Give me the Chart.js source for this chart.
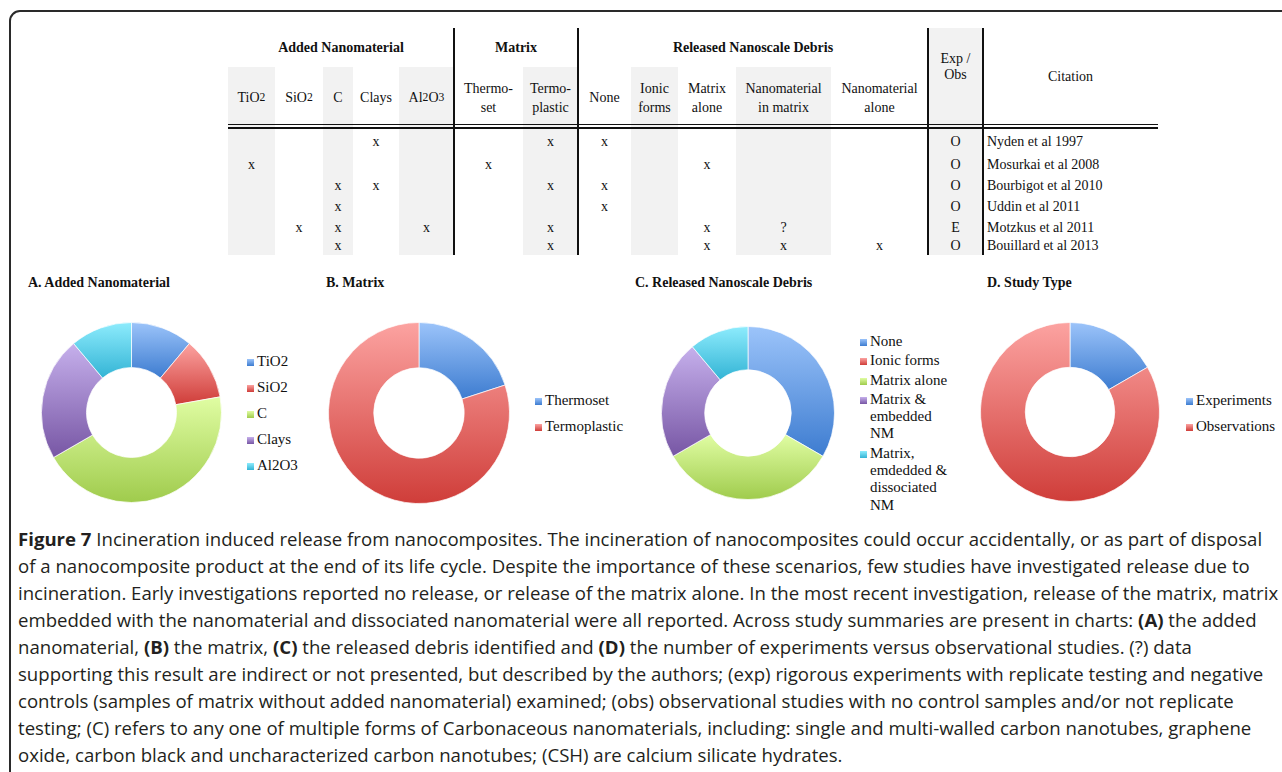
<!DOCTYPE html>
<html>
<head>
<meta charset="utf-8">
<script src="https://cdn.jsdelivr.net/npm/chart.js@4.4.1/dist/chart.umd.min.js"></script>
<style>
  html, body { margin: 0; padding: 0; background: #fff; }
  body { width: 1282px; height: 772px; position: relative; overflow: hidden; }
  .frame { position: absolute; left: 9px; top: 10px; width: 1320px; height: 820px; border: 2px solid #2a2a2a; border-radius: 11px; }
  .serif { font-family: "Liberation Serif", "Times New Roman", serif; color: #111; }
  .abs { position: absolute; }
  .cell { position: absolute; display: flex; align-items: center; justify-content: center; text-align: center; font-size: 14px; line-height: 19px; }
  .gray { position: absolute; background: #f2f2f2; }
  .vline { position: absolute; width: 2px; background: #111; }
  .hline { position: absolute; height: 1.5px; background: #111; }
  .title { position: absolute; font-weight: bold; font-size: 14px; line-height: 16px; white-space: nowrap; }
  .legend { position: absolute; font-size: 15px; font-family: "Liberation Serif", "Times New Roman", serif; color: #111; }
  .legend .item { display: flex; align-items: flex-start; }
  .legend .sw { width: 7px; height: 7px; flex: none; margin-right: 3px; }
  .chartbox { position: absolute; }
  .caption { position: absolute; left: 18px; top: 525px; font-family: "Open Sans", sans-serif; font-size: 18.6px; line-height: 27px; color: #231f20; white-space: nowrap; }
  .caption b { font-weight: 700; }
</style>
</head>
<body>
<div class="frame"></div>
<div id="table" class="serif"></div>

<div class="title serif" style="left:28px; top:275px;">A. Added Nanomaterial</div>
<div class="title serif" style="left:326px; top:275px;">B. Matrix</div>
<div class="title serif" style="left:635px; top:275px;">C. Released Nanoscale Debris</div>
<div class="title serif" style="left:987px; top:275px;">D. Study Type</div>

<div class="chartbox" style="left:41px; top:322px; width:181px; height:181px;"><canvas id="chartA"></canvas></div>
<div class="chartbox" style="left:328px; top:322px; width:182px; height:182px;"><canvas id="chartB"></canvas></div>
<div class="chartbox" style="left:661px; top:326px; width:174px; height:174px;"><canvas id="chartC"></canvas></div>
<div class="chartbox" style="left:980px; top:322px; width:180px; height:180px;"><canvas id="chartD"></canvas></div>

<div id="legendA" class="legend" style="left:247px; top:348px;"></div>
<div id="legendB" class="legend" style="left:535px; top:387px;"></div>
<div id="legendC" class="legend" style="left:860px; top:333px;"></div>
<div id="legendD" class="legend" style="left:1186px; top:387px;"></div>

<div class="caption">
<b>Figure 7</b> Incineration induced release from nanocomposites. The incineration of nanocomposites could occur accidentally, or as part of disposal<br>
of a nanocomposite product at the end of its life cycle. Despite the importance of these scenarios, few studies have investigated release due to<br>
incineration. Early investigations reported no release, or release of the matrix alone. In the most recent investigation, release of the matrix, matrix<br>
embedded with the nanomaterial and dissociated nanomaterial were all reported. Across study summaries are present in charts: <b>(A)</b> the added<br>
nanomaterial, <b>(B)</b> the matrix, <b>(C)</b> the released debris identified and <b>(D)</b> the number of experiments versus observational studies. (?) data<br>
supporting this result are indirect or not presented, but described by the authors; (exp) rigorous experiments with replicate testing and negative<br>
controls (samples of matrix without added nanomaterial) examined; (obs) observational studies with no control samples and/or not replicate<br>
testing; (C) refers to any one of multiple forms of Carbonaceous nanomaterials, including: single and multi-walled carbon nanotubes, graphene<br>
oxide, carbon black and uncharacterized carbon nanotubes; (CSH) are calcium silicate hydrates.
</div>

<script>
// chart data
const nanoLabels = ['TiO2', 'SiO2', 'C', 'Clays', 'Al2O3'];
const nanoCounts = [1, 1, 4, 2, 1];

const matrixLabels = ['Thermoset', 'Termoplastic'];
const matrixCounts = [1, 4];

const debrisLabels = ['None', 'Ionic forms', 'Matrix alone', 'Matrix & embedded NM', 'Matrix, emdedded & dissociated NM'];
const debrisCounts = [3, 0, 3, 2, 1];

const studyLabels = ['Experiments', 'Observations'];
const studyCounts = [1, 5];

// table text
const groupHeaders = [['Added Nanomaterial', 0, 4], ['Matrix', 5, 6], ['Released Nanoscale Debris', 7, 11]];
const columnHeaders = ['TiO<sub>2</sub>', 'SiO<sub>2</sub>', 'C', 'Clays', 'Al<sub>2</sub>O<sub>3</sub>',
  'Thermo-<br>set', 'Termo-<br>plastic', 'None', 'Ionic<br>forms', 'Matrix<br>alone',
  'Nanomaterial<br>in matrix', 'Nanomaterial<br>alone'];
const tableRows = [
  ['', '', '', 'x', '', '', 'x', 'x', '', '', '', '', 'O', 'Nyden et al 1997'],
  ['x', '', '', '', '', 'x', '', '', '', 'x', '', '', 'O', 'Mosurkai et al 2008'],
  ['', '', 'x', 'x', '', '', 'x', 'x', '', '', '', '', 'O', 'Bourbigot et al 2010'],
  ['', '', 'x', '', '', '', '', 'x', '', '', '', '', 'O', 'Uddin et al 2011'],
  ['', 'x', 'x', '', 'x', '', 'x', '', '', 'x', '?', '', 'E', 'Motzkus et al 2011'],
  ['', '', 'x', '', '', '', 'x', '', '', 'x', 'x', 'x', 'O', 'Bouillard et al 2013'],
];

// colours: [top, bottom] of each gradient
const BLUE = ['#9cc4fa', '#3d7cd0'];
const RED = ['#fca3a1', '#cf3d39'];
const GREEN = ['#e0fda3', '#9fcb4c'];
const PURPLE = ['#c6b0ec', '#7756a4'];
const CYAN = ['#8eecfd', '#33b4d5'];

// ---- table ----
const colEdges = [228, 275, 323, 353, 399, 454, 523, 578, 631, 678, 736, 831, 928, 983, 1158];
const rowCenters = [141.7, 164.2, 185, 206.5, 227.2, 245];
const tbl = document.getElementById('table');
function add(cls, style, html) {
  const d = document.createElement('div');
  d.className = cls;
  Object.assign(d.style, style);
  if (html !== undefined) d.innerHTML = html;
  tbl.appendChild(d);
  return d;
}
[0, 2, 4, 6, 8, 10].forEach(i => {
  add('gray', { left: colEdges[i] + 'px', top: '67px', width: (colEdges[i + 1] - colEdges[i]) + 'px', height: '188px' });
});
add('gray', { left: colEdges[12] + 'px', top: '28px', width: (colEdges[13] - colEdges[12]) + 'px', height: '227px' });

groupHeaders.forEach(([txt, a, b]) => {
  add('cell', { left: colEdges[a] + 'px', width: (colEdges[b + 1] - colEdges[a]) + 'px', top: '37px', height: '20px', fontWeight: 'bold' }, txt);
});
columnHeaders.forEach((txt, i) => {
  add('cell', { left: colEdges[i] + 'px', width: (colEdges[i + 1] - colEdges[i]) + 'px', top: '67px', height: '61px' }, txt);
});
add('cell', { left: colEdges[12] + 'px', width: (colEdges[13] - colEdges[12]) + 'px', top: '47px', height: '40px', lineHeight: '16px' }, 'Exp /<br>Obs');
add('cell', { left: colEdges[13] + 'px', width: (colEdges[14] - colEdges[13]) + 'px', top: '66px', height: '20px' }, 'Citation');

tableRows.forEach((row, r) => {
  row.forEach((txt, c) => {
    if (!txt) return;
    const style = { top: (rowCenters[r] - 9) + 'px', height: '18px', left: colEdges[c] + 'px', width: (colEdges[c + 1] - colEdges[c]) + 'px' };
    if (c === 13) { style.justifyContent = 'flex-start'; style.left = (colEdges[c] + 4) + 'px'; style.whiteSpace = 'nowrap'; }
    add('cell', style, txt);
  });
});

[454, 578, 928, 983].forEach(x => add('vline', { left: (x - 1) + 'px', top: '28px', height: '227px' }));
add('hline', { left: '228px', width: '930px', top: '123.5px' });
add('hline', { left: '228px', width: '930px', top: '127px' });

// ---- doughnuts ----
function segGradient(ctx, colors) {
  const chart = ctx.chart;
  const area = chart.chartArea;
  const [light, dark] = colors;
  if (!area) return dark;
  const data = ctx.dataset.data;
  const total = data.reduce((s, v) => s + v, 0);
  const before = data.slice(0, ctx.dataIndex).reduce((s, v) => s + v, 0);
  const a0 = -Math.PI / 2 + 2 * Math.PI * before / total;
  const a1 = a0 + 2 * Math.PI * data[ctx.dataIndex] / total;
  const cy = (area.top + area.bottom) / 2;
  const rOut = Math.min(area.width, area.height) / 2;
  const rIn = rOut * 0.5;
  let lo = Infinity, hi = -Infinity;
  for (let k = 0; k <= 60; k++) {
    const a = a0 + (a1 - a0) * k / 60;
    for (const r of [rIn, rOut]) {
      const y = cy + r * Math.sin(a);
      lo = Math.min(lo, y); hi = Math.max(hi, y);
    }
  }
  if (hi - lo < 1) hi = lo + 1;
  const g = chart.ctx.createLinearGradient(0, lo, 0, hi);
  g.addColorStop(0, light);
  g.addColorStop(1, dark);
  return g;
}

function donut(id, labels, values, palette) {
  return new Chart(document.getElementById(id), {
    type: 'doughnut',
    data: {
      labels: labels,
      datasets: [{
        data: values,
        backgroundColor: c => segGradient(c, palette[c.dataIndex]),
        borderColor: 'rgba(255,255,255,0.7)',
        borderWidth: 1
      }]
    },
    options: {
      responsive: true,
      maintainAspectRatio: false,
      animation: false,
      events: [],
      cutout: '50%',
      layout: { padding: 0 },
      plugins: { legend: { display: false }, tooltip: { enabled: false } }
    }
  });
}

function legend(id, labels, palette, itemHeight, lineHeight, gap, width) {
  const el = document.getElementById(id);
  el.innerHTML = labels.map((l, i) => {
    const [a, b] = palette[i];
    const swTop = (lineHeight - 7) / 2 + 1;
    return `<div class="item" style="line-height:${lineHeight}px; min-height:${itemHeight}px; margin-bottom:${gap}px;">
      <span class="sw" style="margin-top:${swTop}px; background:linear-gradient(${a}, ${b});"></span>
      <span style="${width ? 'width:' + width + 'px;' : 'white-space:nowrap;'}">${l.replace('&', '&amp;')}</span></div>`;
  }).join('');
}

const nanoPalette = [BLUE, RED, GREEN, PURPLE, CYAN];
const matrixPalette = [BLUE, RED];
const debrisPalette = [BLUE, RED, GREEN, PURPLE, CYAN];
const studyPalette = [BLUE, RED];

donut('chartA', nanoLabels, nanoCounts, nanoPalette);
donut('chartB', matrixLabels, matrixCounts, matrixPalette);
donut('chartC', debrisLabels, debrisCounts, debrisPalette);
donut('chartD', studyLabels, studyCounts, studyPalette);

legend('legendA', nanoLabels, nanoPalette, 26, 26, 0);
legend('legendB', matrixLabels, matrixPalette, 26, 26, 0);
legend('legendC', debrisLabels, debrisPalette, 17, 17.3, 2, 82);
legend('legendD', studyLabels, studyPalette, 26, 26, 0);
</script>
</body>
</html>
